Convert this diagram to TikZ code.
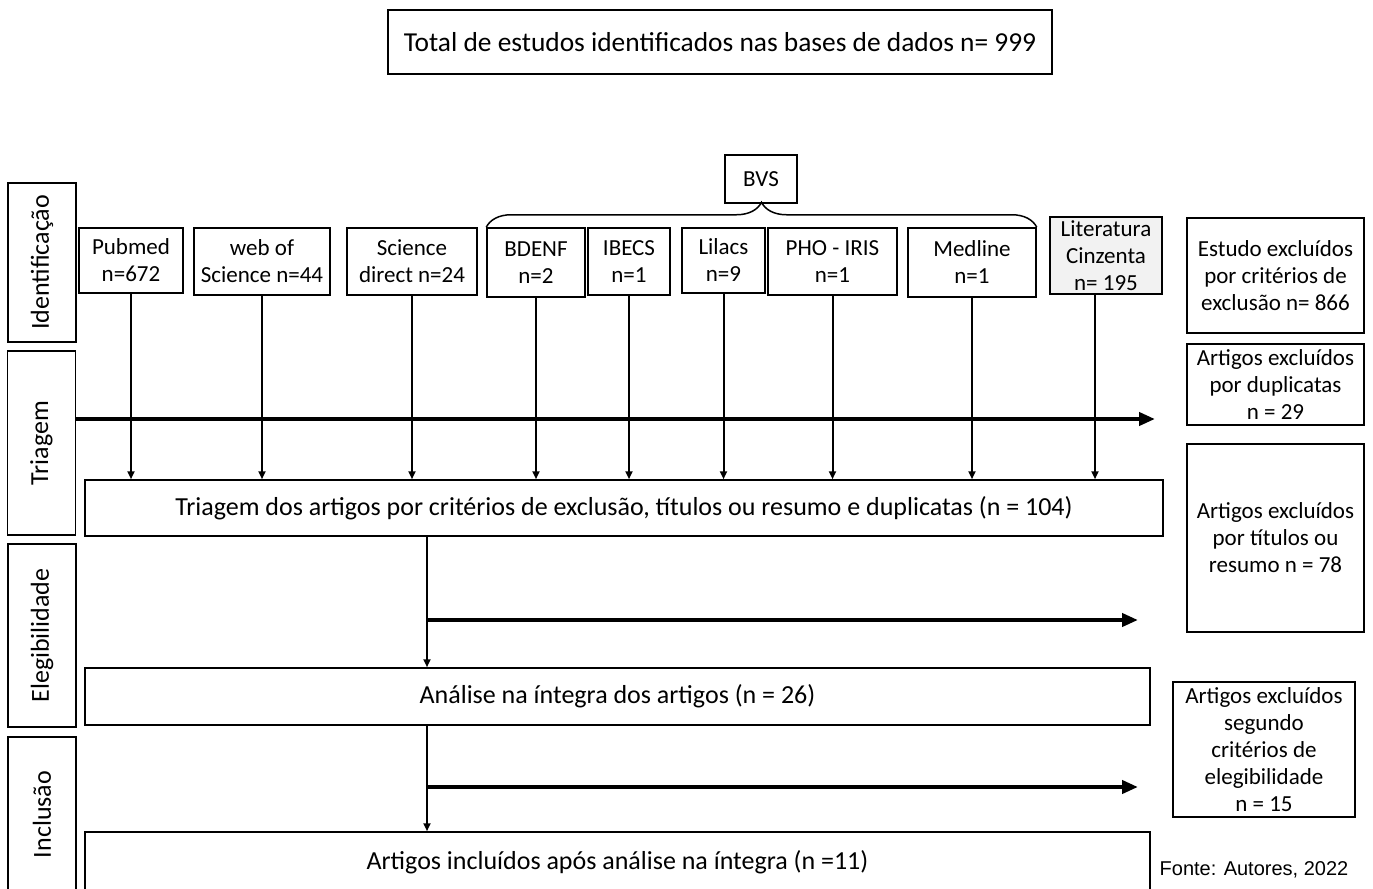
\documentclass[tikz,border=0pt]{standalone}
\usepackage{fontspec}
\setmainfont{Carlito}
\newfontfamily\arialfont{Liberation Sans}
\usetikzlibrary{arrows.meta,decorations.pathreplacing}
\definecolor{cinza}{HTML}{F2F2F2}

\begin{document}
\begin{tikzpicture}[x=0.5pt,y=-0.5pt]
\tikzstyle{every node}=[font=\fontsize{11.5}{13.5}\selectfont, inner sep=1pt, align=center]
\tikzstyle{caixa}=[draw, line width=0.75pt]
\tikzstyle{etapa}=[draw, line width=0.75pt, font=\fontsize{13}{15}\selectfont]
\tikzstyle{fase}=[draw, line width=0.75pt, rotate=90, minimum height=34pt, font=\fontsize{13}{15}\selectfont]
\tikzstyle{seta}=[line width=1pt, -{Triangle[length=4pt,width=3.5pt]}]
\tikzstyle{setagrossa}=[line width=2.2pt, -{Triangle[length=8pt,width=6.5pt]}]
\useasboundingbox (0,0) rectangle (1373,889);

\node (total) [caixa, font=\fontsize{13.7}{16}\selectfont, minimum width=332pt, minimum height=32pt] at (720,42) {Total de estudos identificados nas bases de dados n= 999};
\node (bvs) [caixa, minimum width=36pt, minimum height=24pt] at (761,179) {BVS};

% fases
\node (f1) [fase, minimum width=79.5pt] at (42,262.5) {Identificação};
\node (f2) [fase, minimum width=92pt] at (41.5,443) {Triagem};
\node (f3) [fase, minimum width=91.5pt] at (42,635.5) {Elegibilidade};
\node (f4) [fase, minimum width=77.5pt] at (42,814.5) {Inclusão};

% bases
\node (pubmed) [caixa, minimum width=52pt, minimum height=32.5pt] at (131,260.5) {Pubmed\\n=672};
\node (wos) [caixa, minimum width=68pt, minimum height=33.5pt] at (262,261.5) {web of\\Science n=44};
\node (sd) [caixa, minimum width=65pt, minimum height=33.5pt] at (412,261.5) {Science\\direct n=24};
\node (bdenf) [caixa, minimum width=49pt, minimum height=34.5pt] at (536,262.5) {BDENF\\n=2};
\node (ibecs) [caixa, minimum width=41pt, minimum height=33.5pt] at (629,261.5) {IBECS\\n=1};
\node (lilacs) [caixa, minimum width=41.5pt, minimum height=32.5pt] at (723.5,260.5) {Lilacs\\n=9};
\node (pho) [caixa, minimum width=64.5pt, minimum height=33.5pt] at (832.5,261.5) {PHO - IRIS\\n=1};
\node (medline) [caixa, minimum width=64pt, minimum height=34.5pt] at (972,262.5) {Medline\\n=1};
\node (lit) [caixa, fill=cinza, minimum width=56pt, minimum height=38.5pt] at (1106,255.5) {Literatura\\Cinzenta\\n= 195};

% excluidos
\node (exc1) [caixa, minimum width=88.5pt, minimum height=57.5pt] at (1275.5,275.5) {Estudo excluídos\\por critérios de\\exclusão n= 866};
\node (exc2) [caixa, minimum width=88.5pt, minimum height=40.5pt] at (1275.5,384.5) {Artigos excluídos\\por duplicatas\\n = 29};
\node (exc3) [caixa, minimum width=88.5pt, minimum height=94pt] at (1275.5,538) {Artigos excluídos\\por títulos ou\\resumo n = 78};
\node (exc4) [caixa, minimum width=91pt, minimum height=67.5pt] at (1264,749.5) {Artigos excluídos\\segundo\\critérios de\\elegibilidade\\n = 15};

% etapas
\node (tri) [etapa, minimum width=539pt, minimum height=28pt] at (624,508) {Triagem dos artigos por critérios de exclusão, títulos ou resumo e duplicatas (n = 104)};
\node (ana) [etapa, minimum width=532.5pt, minimum height=28.5pt] at (617.5,696.5) {Análise na íntegra dos artigos (n = 26)};
\node (inc) [etapa, minimum width=532.5pt, minimum height=30pt] at (617.5,862) {Artigos incluídos após análise na íntegra (n =11)};

\node (fonte) at (1254,870) {\arialfont\fontsize{10}{12}\selectfont Fonte: Autores, 2022};

\draw[line width=0.75pt, decorate, decoration={brace, amplitude=12.5pt}] (bdenf.north west) -- (medline.north east);

\coordinate (d1) at (1155,419);
\coordinate (d2) at (1138,620);
\coordinate (d3) at (1138,787);
\coordinate (ramo) at (427,0);

\draw[setagrossa] (f2.south |- d1) -- (d1);
\foreach \s in {pubmed,wos,sd,bdenf,ibecs,lilacs,pho,medline}
  \draw[seta] (\s.south) -- (\s.south |- tri.north);
\draw[seta] ([xshift=-5.5pt]lit.south) -- ([xshift=-5.5pt]lit.south |- tri.north);

\draw[seta] (tri.south -| ramo) -- (ana.north -| ramo);
\draw[setagrossa] (ramo |- d2) -- (d2);
\draw[seta] (ana.south -| ramo) -- (inc.north -| ramo);
\draw[setagrossa] (ramo |- d3) -- (d3);
\end{tikzpicture}
\end{document}
